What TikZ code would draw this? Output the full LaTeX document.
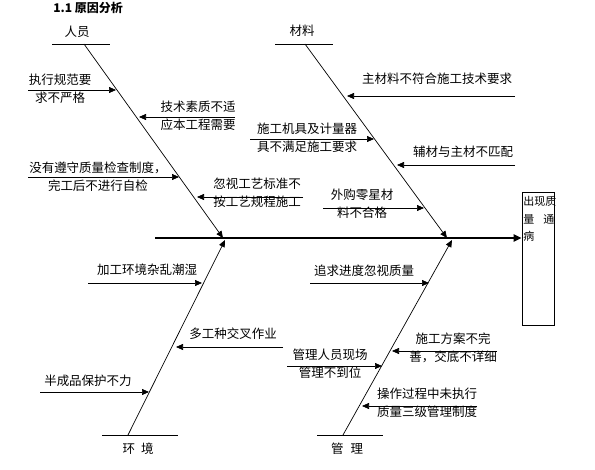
\documentclass[tikz,border=0pt]{standalone}
\usepackage{fontspec}
\newfontfamily\cjk{Noto Sans CJK SC}
\usetikzlibrary{arrows.meta}

\begin{document}
\begin{tikzpicture}[x=1pt,y=-1pt,line width=0.7pt,
  tip/.style={-{Triangle[length=7pt,width=6pt]}},
  txt/.style={font=\cjk\fontsize{12.5}{18}\selectfont,inner sep=0pt,align=center},
  cat/.style={font=\cjk\fontsize{12.5}{15}\selectfont,inner sep=0pt}]
  \useasboundingbox (0,0) rectangle (595,470);
  \node[font=\cjk\bfseries\fontsize{12}{14}\selectfont,inner sep=0pt,anchor=west] (title) at (53,8) {1.1 原因分析};

  % main bones
  \coordinate (ryTop) at (84,44);   \coordinate (ryEnd) at (223,238);
  \coordinate (clTop) at (305,44);  \coordinate (clEnd) at (447,238);
  \coordinate (hjBot) at (128,435); \coordinate (hjEnd) at (225,240);
  \coordinate (glBot) at (343,435); \coordinate (glEnd) at (452,240);
  \coordinate (tail) at (155,238);
  \node[draw,minimum width=32pt,minimum height=133pt,inner sep=0pt] (wt) at (538,258.5) {};
  \node[font=\cjk\fontsize{11}{17.5}\selectfont,inner sep=0pt,align=left,anchor=north west] (wtText) at (523,196) {出现质\\量\hspace{9pt}通\\病};

  \node[cat] (ry) at (77,32) {人员};
  \node[cat] (cl) at (302,31) {材料};
  \node[cat] (hj) at (138,449) {环\hspace{6pt}境};
  \node[cat] (gl) at (347,449) {管\hspace{7pt}理};
  \draw (52,44) -- (110,44);
  \draw (275,44) -- (333,44);
  \draw (102,435) -- (178,435);
  \draw (317,435) -- (383,435);

  \draw[line width=2pt,-{Triangle[length=8pt,width=7pt]}] (tail) -- (tail -| wt.west);
  \draw[tip] (ryTop) -- (ryEnd);
  \draw[tip] (clTop) -- (clEnd);
  \draw[tip] (hjBot) -- (hjEnd);
  \draw[tip] (glBot) -- (glEnd);

  % sub causes: name/start x/tip x/y
  \foreach \n/\xa/\xb/\y in {a/28/116/90, b/235/139/117, c/28/179/177, d/303/197/197,
      e/515/347/96, f/250/374/139, g/515/397/165, h/323/424/208,
      i/88/202/283, j/283/176/347, k/40/149/392,
      l/310/429/283, m/497/392/351, n/287/382/366, o/477/362/406} {
    \coordinate (s\n) at (\xa,\y);
    \coordinate (e\n) at (\xb,\y);
    \draw[tip] (s\n) -- (e\n);
  }

  \node[txt] (ta) at (60,89) {执行规范要\\求不严格};
  \node[txt] (tb) at (198,116) {技术素质不适\\应本工程需要};
  \node[txt] (tc) at (98,176.5) {没有遵守质量检查制度，\\完工后不进行自检};
  \node[txt] (td) at (257,192.5) {忽视工艺标准不\\按工艺规程施工};
  \node[txt] (te) at (437,79) {主材料不符合施工技术要求};
  \node[txt] (tf) at (307,138) {施工机具及计量器\\具不满足施工要求};
  \node[txt] (tg) at (463,152) {辅材与主材不匹配};
  \node[txt] (th) at (362,204) {外购零星材\\料不合格};
  \node[txt] (ti) at (147,270) {加工环境杂乱潮湿};
  \node[txt] (tj) at (233,334) {多工种交叉作业};
  \node[txt] (tk) at (88,381) {半成品保护不力};
  \node[txt] (tl) at (364,271) {追求进度忽视质量};
  \node[txt] (tm) at (453,348) {施工方案不完\\善，交底不详细};
  \node[txt] (tn) at (330,364) {管理人员现场\\管理不到位};
  \node[txt] (to) at (427,403) {操作过程中未执行\\质量三级管理制度};
\end{tikzpicture}
\end{document}
